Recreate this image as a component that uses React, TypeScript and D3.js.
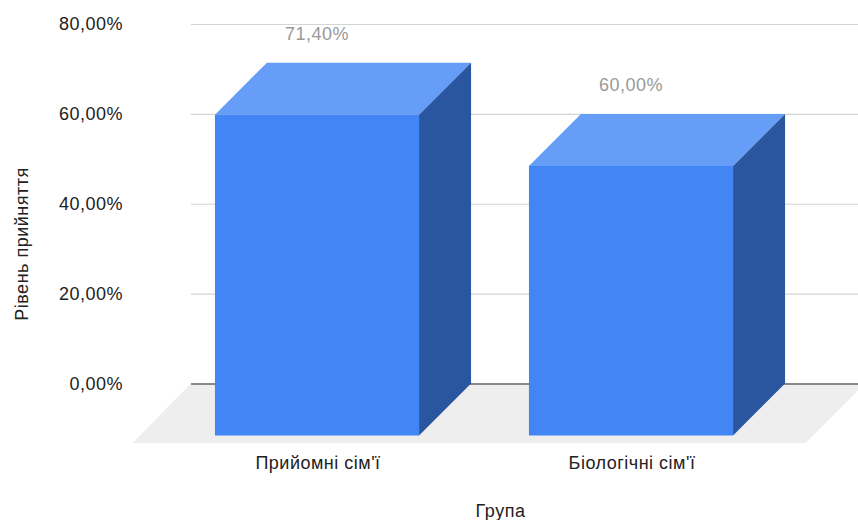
import { useEffect, useRef } from 'react';
import * as d3 from 'd3';

const groups = ['Прийомні сім\'ї', 'Біологічні сім\'ї'];
const acceptance = [71.4, 60];
const yTicks = [0, 20, 40, 60, 80];
const yTitle = 'Рівень прийняття';
const xTitle = 'Група';

const WIDTH = 858;
const HEIGHT = 520;
const FONT = '"Liberation Sans", Arial, sans-serif';
const FONT_SIZE = 18;
const SPACING = '0.5px';

export default function App() {
  const svgRef = useRef<SVGSVGElement>(null);

  useEffect(() => {
    if (!svgRef.current) return;
    const svg = d3.select(svgRef.current);
    svg.selectAll('*').remove();

    const uk = d3.formatLocale({ decimal: ',', thousands: ' ', grouping: [3], currency: ['', ''] });
    const fmt = (v: number) => uk.format('.2f')(v) + '%';

    // back wall of the 3d box
    const y = d3.scaleLinear().domain([0, 80]).range([383.5, 24]);
    const x = d3.scaleBand<string>().domain(groups).range([212, 840]).paddingInner(0.35).paddingOuter(0.175);
    const depth = 52;
    const floorDepth = 59.5;
    const wallLeft = 191;
    const wallRight = 865;

    // floor
    svg.append('path')
      .attr('d', d3.line()([
        [wallLeft, y(0)],
        [wallRight, y(0)],
        [wallRight - floorDepth, y(0) + floorDepth],
        [wallLeft - floorDepth + 1, y(0) + floorDepth],
      ]) + 'Z')
      .attr('fill', '#eeeeee');

    const axis = svg.append('g')
      .attr('transform', `translate(${wallLeft},0)`)
      .call(d3.axisLeft(y).tickValues(yTicks).tickSize(-(WIDTH - wallLeft)).tickFormat(d => fmt(+d)))
      .call(g => g.select('.domain').remove());
    axis.selectAll<SVGLineElement, number>('.tick line')
      .attr('stroke', d => (d === 0 ? '#666666' : '#d4d4d4'))
      .attr('stroke-width', d => (d === 0 ? 1.4 : 1.2));
    axis.selectAll('.tick text')
      .attr('x', -68)
      .attr('dy', '0.32em')
      .attr('fill', '#222222')
      .attr('font-family', FONT)
      .attr('font-size', FONT_SIZE)
      .style('letter-spacing', SPACING);

    const bars = svg.append('g').selectAll('g').data(groups).join('g');
    const bw = x.bandwidth();

    const poly = (pts: [number, number][]) => d3.line()(pts) + 'Z';

    // top
    bars.append('path')
      .attr('d', (d, i) => {
        const x0 = x(d) as number;
        const t = y(acceptance[i]);
        return poly([[x0, t], [x0 + bw, t], [x0 + bw - depth, t + depth], [x0 - depth, t + depth]]);
      })
      .attr('fill', '#669df6');
    // side
    bars.append('path')
      .attr('d', (d, i) => {
        const x0 = x(d) as number;
        const t = y(acceptance[i]);
        return poly([[x0 + bw, t], [x0 + bw, y(0)], [x0 + bw - depth, y(0) + depth], [x0 + bw - depth, t + depth]]);
      })
      .attr('fill', '#2a56a0');
    // front
    bars.append('path')
      .attr('d', (d, i) => {
        const x0 = x(d) as number;
        const t = y(acceptance[i]);
        return poly([[x0 - depth, t + depth], [x0 + bw - depth, t + depth], [x0 + bw - depth, y(0) + depth], [x0 - depth, y(0) + depth]]);
      })
      .attr('fill', '#4285f4');

    // value labels
    bars.append('text')
      .attr('x', d => (x(d) as number) + bw / 2 - depth)
      .attr('y', (_d, i) => y(acceptance[i]) - 22.5)
      .attr('text-anchor', 'middle')
      .attr('fill', '#999999')
      .attr('font-family', FONT)
      .attr('font-size', FONT_SIZE)
      .style('letter-spacing', SPACING)
      .text((_d, i) => fmt(acceptance[i]));

    // category labels
    bars.append('text')
      .attr('x', d => (x(d) as number) + bw / 2 - depth + 1)
      .attr('y', 469)
      .attr('text-anchor', 'middle')
      .attr('fill', '#222222')
      .attr('font-family', FONT)
      .attr('font-size', FONT_SIZE)
      .style('letter-spacing', SPACING)
      .text(d => d);

    svg.append('text')
      .attr('x', 500.5)
      .attr('y', 517)
      .attr('text-anchor', 'middle')
      .attr('fill', '#222222')
      .attr('font-family', FONT)
      .attr('font-size', FONT_SIZE)
      .style('letter-spacing', SPACING)
      .text(xTitle);

    svg.append('text')
      .attr('transform', 'translate(28,244) rotate(-90)')
      .attr('text-anchor', 'middle')
      .attr('fill', '#222222')
      .attr('font-family', FONT)
      .attr('font-size', FONT_SIZE)
      .style('letter-spacing', SPACING)
      .text(yTitle);
  }, []);

  return (
    <svg
      ref={svgRef}
      width={WIDTH}
      height={HEIGHT}
      style={{ position: 'absolute', left: 0, top: 0, display: 'block', background: '#ffffff' }}
    />
  );
}
